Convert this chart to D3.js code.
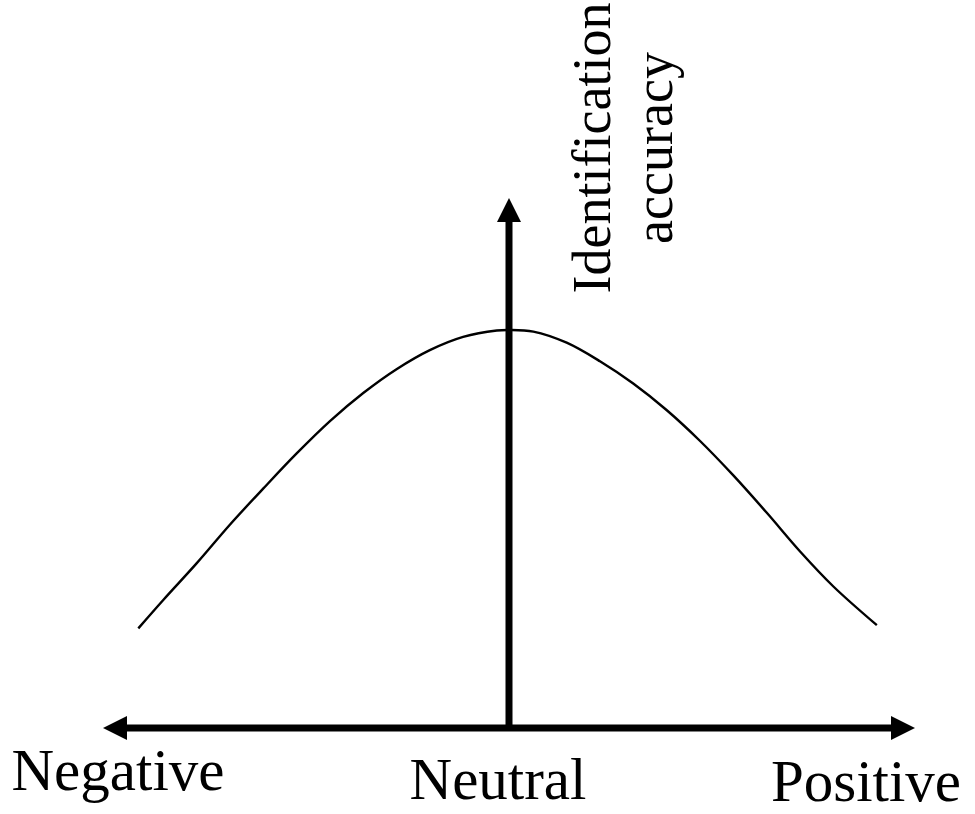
<!DOCTYPE html>
<html>
<head>
<meta charset="utf-8">
<style>
    body { margin: 0; background: #fff; }
    text.lbl {
        font-family: "Times New Roman", "Liberation Serif", serif;
        fill: #000;
    }
</style>
</head>
<body>
<svg width="975" height="814" id="chart"></svg>
<script src="https://cdn.jsdelivr.net/npm/d3@7"></script>
<script>
// valence (-1 negative .. 1 positive) and identification accuracy (0..1)
var valence = [-0.913, -0.851, -0.769, -0.687, -0.605, -0.523, -0.441, -0.359, -0.277, -0.195, -0.113, -0.030, 0.0,
               0.060, 0.142, 0.224, 0.306, 0.388, 0.470, 0.552, 0.635, 0.717, 0.799, 0.906];
var accuracy = [0.188, 0.242, 0.311, 0.384, 0.452, 0.518, 0.579, 0.632, 0.677, 0.713, 0.738, 0.750, 0.751,
                0.748, 0.727, 0.692, 0.650, 0.600, 0.542, 0.477, 0.406, 0.333, 0.267, 0.194];
var xLabels = ["Negative", "Neutral", "Positive"];
var yLabel = ["Identification", "accuracy"];

var svg = d3.select("#chart");

var x = d3.scaleLinear().domain([-1, 1]).range([103, 915]);
var y = d3.scaleLinear().domain([0, 1]).range([728, 198]);

var head = 24, half = 12, shaft = 7;

// horizontal double arrow
svg.append("line")
    .attr("x1", x(-1) + head - 2).attr("x2", x(1) - head + 2)
    .attr("y1", y(0)).attr("y2", y(0))
    .attr("stroke", "#000").attr("stroke-width", shaft);

svg.append("path")
    .attr("d", "M" + x(-1) + "," + y(0) + " L" + (x(-1) + head) + "," + (y(0) - half) +
               " L" + (x(-1) + head) + "," + (y(0) + half) + " Z")
    .attr("fill", "#000");

svg.append("path")
    .attr("d", "M" + x(1) + "," + y(0) + " L" + (x(1) - head) + "," + (y(0) - half) +
               " L" + (x(1) - head) + "," + (y(0) + half) + " Z")
    .attr("fill", "#000");

// vertical arrow
svg.append("line")
    .attr("x1", x(0)).attr("x2", x(0))
    .attr("y1", y(0)).attr("y2", y(1) + head - 2)
    .attr("stroke", "#000").attr("stroke-width", shaft);

svg.append("path")
    .attr("d", "M" + x(0) + "," + y(1) + " L" + (x(0) - half) + "," + (y(1) + head) +
               " L" + (x(0) + half) + "," + (y(1) + head) + " Z")
    .attr("fill", "#000");

// the curve
var pts = valence.map(function(v, i) { return [v, accuracy[i]]; });
var line = d3.line()
    .x(function(d) { return x(d[0]); })
    .y(function(d) { return y(d[1]); })
    .curve(d3.curveCatmullRom.alpha(0.5));

svg.append("path")
    .datum(pts)
    .attr("d", line)
    .attr("fill", "none")
    .attr("stroke", "#000")
    .attr("stroke-width", 2.4);

// category labels under the axis
var labPos = [[118, 790], [498, 799], [866, 801]];
svg.selectAll("text.cat")
    .data(xLabels)
    .enter().append("text")
    .attr("class", "lbl cat")
    .attr("x", function(d, i) { return labPos[i][0]; })
    .attr("y", function(d, i) { return labPos[i][1]; })
    .attr("text-anchor", "middle")
    .attr("font-size", 59)
    .text(function(d) { return d; });

// rotated y label
svg.selectAll("text.ylab")
    .data(yLabel)
    .enter().append("text")
    .attr("class", "lbl ylab")
    .attr("text-anchor", "middle")
    .attr("font-size", 54)
    .attr("transform", function(d, i) { return "translate(" + (610 + i * 62) + ",148) rotate(-90)"; })
    .text(function(d) { return d; });
</script>
</body>
</html>
